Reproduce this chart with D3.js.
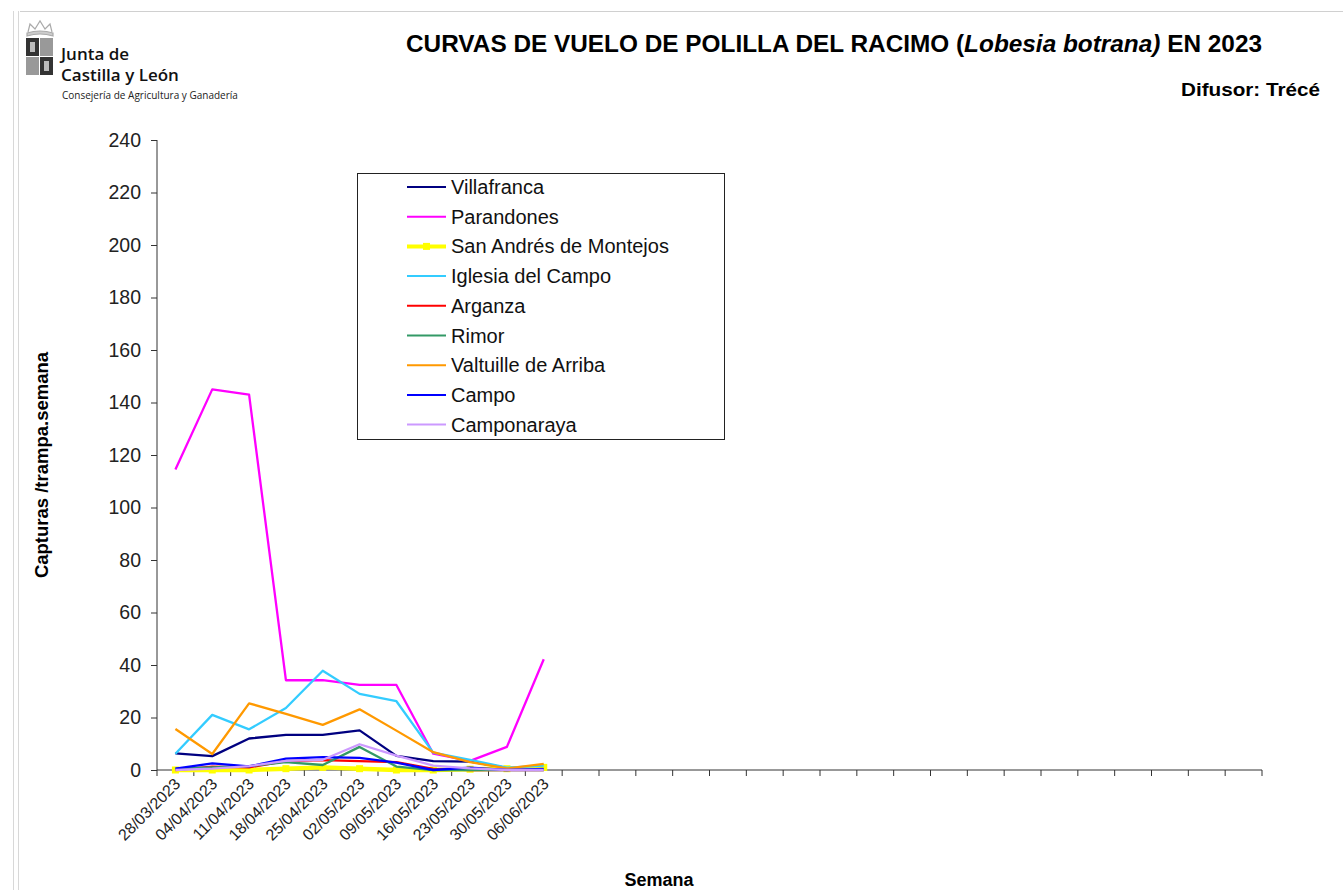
<!DOCTYPE html>
<html>
<head>
<meta charset="utf-8">
<script src="https://cdn.jsdelivr.net/npm/d3@7"></script>
<style>
  body { margin: 0; background: #fff; }
  svg { display: block; font-family: "Liberation Sans", Arial, sans-serif; }
</style>
</head>
<body>
<div class="graphic"></div>
<script>
// weeks with data, the axis has room for 30 weeks
var fechas = ["28/03/2023", "04/04/2023", "11/04/2023", "18/04/2023", "25/04/2023", "02/05/2023",
  "09/05/2023", "16/05/2023", "23/05/2023", "30/05/2023", "06/06/2023"];
var numSemanas = 30;

var parcelas = ["Villafranca", "Parandones", "San Andrés de Montejos", "Iglesia del Campo", "Arganza",
  "Rimor", "Valtuille de Arriba", "Campo", "Camponaraya"];

var villafranca = [6.3, 5.3, 12, 13.4, 13.4, 15.1, 5.4, 3.4, 3.2, 0.8, 0.6];
var parandones = [114.5, 145, 143, 34.2, 34.2, 32.4, 32.4, 6.2, 3.5, 8.8, 42.2];
var sanAndres = [0, 0, 0, 0.5, 1, 0.5, 0, 0, 0.3, 0.5, 1];
var iglesia = [6.2, 21, 15.5, 23.6, 37.8, 29, 26.2, 6.6, 3.9, 0.9, 1.7];
var arganza = [0, 1.3, 1, 3.4, 3.8, 3.4, 3, 0.4, 0, 0, 0];
var rimor = [0.5, 1, 1.5, 3, 1.9, 8.8, 1.3, 0, 0, 0, 0];
var valtuille = [15.6, 6.1, 25.4, 21.4, 17.2, 23.1, 15, 6.8, 3, 0.6, 2.3];
var campo = [0.5, 2.5, 1.4, 4.3, 4.9, 4.6, 2.8, 0, 0.9, 0, 0.4];
var camponaraya = [0, 0.5, 1.5, 3.5, 3.9, 9.8, 5.5, 1.7, 0.6, 0, 0];

var series = [villafranca, parandones, sanAndres, iglesia, arganza, rimor, valtuille, campo, camponaraya];
var colores = ["#000080", "#ff00ff", "#ffff00", "#33ccff", "#ff0000", "#339966", "#ff9900", "#0000ff", "#cc99ff"];

var yTicks = [0, 20, 40, 60, 80, 100, 120, 140, 160, 180, 200, 220, 240];

var render = function() {
  var W = 1343, H = 890;
  var svg = d3.select(".graphic").append("svg").attr("width", W).attr("height", H);

  // page frame
  svg.append("line").attr("x1", 20).attr("x2", W).attr("y1", 11.5).attr("y2", 11.5).attr("stroke", "#d0d0d0");
  svg.append("line").attr("x1", 13.5).attr("x2", 13.5).attr("y1", 11).attr("y2", H).attr("stroke", "#d8d8d8");
  svg.append("line").attr("x1", 18.5).attr("x2", 18.5).attr("y1", 11).attr("y2", H).attr("stroke", "#d8d8d8");

  // logo
  var logo = svg.append("g");
  var crown = logo.append("g").attr("fill", "none").attr("stroke", "#aaa").attr("stroke-width", 1.2);
  crown.append("path").attr("d", "M27,33 Q40,29 53,33 L53,36 Q40,32 27,36 Z").attr("fill", "#ccc");
  crown.append("path").attr("d", "M28,32 L30,24 L35,29 L40,21 L45,29 L50,24 L52,32");
  logo.append("rect").attr("x", 26).attr("y", 38).attr("width", 13).attr("height", 18).attr("fill", "#333");
  logo.append("rect").attr("x", 40).attr("y", 38).attr("width", 13).attr("height", 18).attr("fill", "#999");
  logo.append("rect").attr("x", 26).attr("y", 57).attr("width", 13).attr("height", 18).attr("fill", "#999");
  logo.append("rect").attr("x", 40).attr("y", 57).attr("width", 13).attr("height", 18).attr("fill", "#333");
  logo.append("rect").attr("x", 30).attr("y", 42).attr("width", 5).attr("height", 10).attr("fill", "#bbb");
  logo.append("rect").attr("x", 44).attr("y", 61).attr("width", 5).attr("height", 10).attr("fill", "#bbb");
  logo.append("text").attr("x", 61).attr("y", 60).attr("font-family", "'Open Sans', sans-serif")
    .attr("font-size", 17).attr("font-weight", 600).attr("fill", "#111").text("Junta de");
  logo.append("text").attr("x", 61).attr("y", 81).attr("font-family", "'Open Sans', sans-serif")
    .attr("font-size", 17).attr("font-weight", 600).attr("fill", "#111").text("Castilla y León");
  logo.append("text").attr("x", 62).attr("y", 99).attr("font-family", "'Open Sans', sans-serif")
    .attr("font-size", 10).attr("fill", "#222").text("Consejería de Agricultura y Ganadería");

  // titles
  var title = svg.append("text").attr("x", 406).attr("y", 52)
    .attr("font-size", 24).attr("font-weight", "bold").attr("fill", "#000")
    .attr("textLength", 856).attr("lengthAdjust", "spacingAndGlyphs");
  title.append("tspan").text("CURVAS DE VUELO DE POLILLA DEL RACIMO (");
  title.append("tspan").attr("font-style", "italic").text("Lobesia botrana)");
  title.append("tspan").text(" EN 2023");
  svg.append("text").attr("x", 1181).attr("y", 96)
    .attr("font-size", 18.5).attr("font-weight", "bold")
    .attr("textLength", 139).attr("lengthAdjust", "spacingAndGlyphs").text("Difusor: Trécé");

  var x0 = 157, x1 = 1262, yTop = 140, yBot = 770;

  var x = d3.scaleBand().domain(d3.range(numSemanas)).range([x0, x1]);
  var y = d3.scaleLinear().domain([0, 240]).range([yBot, yTop]);

  // y axis
  var yAxis = svg.append("g").attr("transform", "translate(" + x0 + ",0)")
    .call(d3.axisLeft(y).tickValues(yTicks).tickSize(6).tickPadding(10));
  yAxis.select(".domain").attr("stroke", "#333").attr("d", "M0," + yTop + "V" + yBot);
  yAxis.selectAll(".tick line").attr("stroke", "#333");
  yAxis.selectAll("text").attr("font-size", 19.5).attr("fill", "#222").attr("font-family", "'Liberation Sans', Arial, sans-serif");

  // x axis, ticks between weeks
  var bounds = d3.range(numSemanas + 1).map(function(i) { return x0 + i * x.bandwidth(); });
  var xg = svg.append("g");
  xg.append("line").attr("x1", x0).attr("x2", x1).attr("y1", yBot).attr("y2", yBot).attr("stroke", "#333");
  xg.selectAll("line.tk").data(bounds).enter().append("line").attr("class", "tk")
    .attr("x1", function(d) { return d; }).attr("x2", function(d) { return d; })
    .attr("y1", yBot).attr("y2", yBot + 6).attr("stroke", "#333");
  xg.selectAll("text").data(fechas).enter().append("text")
    .attr("transform", function(d, i) {
      return "translate(" + (x(i) + x.bandwidth() / 2 + 6) + "," + (yBot + 15) + ") rotate(-45)";
    })
    .attr("text-anchor", "end").attr("font-size", 16).attr("fill", "#222").text(function(d) { return d; });

  // axis titles
  svg.append("text").attr("transform", "translate(48,465) rotate(-90)").attr("text-anchor", "middle")
    .attr("font-size", 18.5).attr("font-weight", "bold").text("Capturas /trampa.semana");
  svg.append("text").attr("x", 659).attr("y", 886).attr("text-anchor", "middle")
    .attr("font-size", 18).attr("font-weight", "bold").text("Semana");

  // lines
  var line = d3.line()
    .x(function(d, i) { return x(i) + x.bandwidth() / 2; })
    .y(function(d) { return y(d); });

  series.forEach(function(s, k) {
    svg.append("path").datum(s).attr("d", line).attr("fill", "none")
      .attr("stroke", colores[k]).attr("stroke-width", k === 2 ? 4.5 : 2.3)
      .attr("stroke-linejoin", "round");
    if (k === 2) {
      svg.selectAll("rect.mk").data(s).enter().append("rect").attr("class", "mk")
        .attr("x", function(d, i) { return x(i) + x.bandwidth() / 2 - 3.5; })
        .attr("y", function(d) { return y(d) - 3.5; })
        .attr("width", 7).attr("height", 7).attr("fill", colores[k]);
    }
  });

  // legend
  var leg = svg.append("g");
  leg.append("rect").attr("x", 357.5).attr("y", 173.5).attr("width", 367).attr("height", 266)
    .attr("fill", "#fff").attr("stroke", "#222");
  var items = leg.selectAll("g.it").data(parcelas).enter().append("g").attr("class", "it")
    .attr("transform", function(d, i) { return "translate(0," + (187 + i * 29.7) + ")"; });
  items.append("line").attr("x1", 407).attr("x2", 446).attr("y1", 0).attr("y2", 0)
    .attr("stroke", function(d, i) { return colores[i]; })
    .attr("stroke-width", function(d, i) { return i === 2 ? 4 : 2; });
  items.filter(function(d, i) { return i === 2; }).append("rect")
    .attr("x", 423).attr("y", -3.5).attr("width", 7).attr("height", 7).attr("fill", colores[2]);
  items.append("text").attr("x", 451).attr("y", 7).attr("font-size", 20).attr("fill", "#111")
    .text(function(d) { return d; });
};

render();
</script>
</body>
</html>
